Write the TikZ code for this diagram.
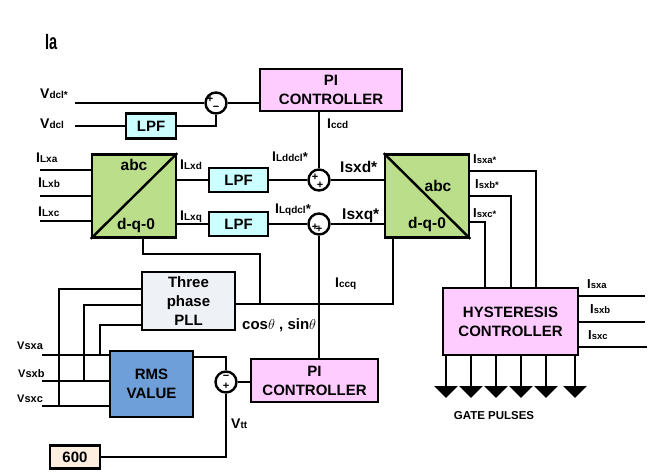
\documentclass[tikz,border=0pt]{standalone}
\usepackage{fontspec}
\usepackage{graphicx}
\setmainfont{Liberation Sans}
\usetikzlibrary{arrows.meta,calc}
\definecolor{pinkf}{HTML}{FFCCFF}
\definecolor{cyanf}{HTML}{CCFFFF}
\definecolor{greenf}{HTML}{BADE8A}
\definecolor{pllf}{HTML}{EEF1F6}
\definecolor{rmsf}{HTML}{6F9FD8}
\definecolor{peachf}{HTML}{FDEEE0}
\newcommand\twolab[4]{{\fontsize{#1}{#1}\selectfont #2}{\fontsize{#3}{#3}\selectfont #4}}
\begin{document}
\begin{tikzpicture}[x=1pt,y=-1pt,
  blk/.style={draw, line width=2.6pt, inner sep=0pt, align=center, font=\fontsize{15}{19}\selectfont\bfseries},
  sumc/.style={draw, circle, line width=2.4pt, minimum size=21pt, inner sep=0pt},
  wire/.style={line width=2.4pt},
  lab/.style={anchor=base west, inner sep=0pt, font=\bfseries},
  sgn/.style={inner sep=0pt, font=\fontsize{11}{11}\selectfont\bfseries},
  boxtxt/.style={inner sep=0pt, font=\fontsize{15.5}{15.5}\selectfont\bfseries},
  gate/.style={line width=2.4pt, -{Triangle[width=23pt,length=12pt]}}]
\useasboundingbox (0,0) rectangle (660,472);

% title
\node[anchor=base west, inner sep=0pt] (title) at (45,49) {\fontsize{22}{22}\selectfont\scalebox{0.66}[1]{\bfseries Ia}};

% blocks
\node[blk, fill=pinkf, minimum width=142pt, minimum height=42pt] (PI1) at (331,90) {PI\\CONTROLLER};
\node[blk, fill=cyanf, minimum width=50pt, minimum height=25pt] (LPF0) at (151,126) {LPF};
\node[sumc] (S1) at (216,103) {};
\node[blk, fill=greenf, minimum width=84pt, minimum height=83pt] (ABC1) at (134,196) {};
\node[blk, fill=cyanf, minimum width=59pt, minimum height=24pt] (LPF1) at (238.5,180) {LPF};
\node[blk, fill=cyanf, minimum width=59pt, minimum height=24pt] (LPF2) at (238.5,224) {LPF};
\node[sumc] (S2) at (319,180) {};
\node[sumc] (S3) at (319,224) {};
\node[blk, fill=greenf, minimum width=84pt, minimum height=83pt] (ABC2) at (427,196) {};
\node[blk, fill=pinkf, minimum width=135pt, minimum height=67pt] (HYS) at (510.5,321.5) {HYSTERESIS\\CONTROLLER};
\node[blk, fill=pllf, minimum width=93pt, minimum height=58pt] (PLL) at (188.5,301) {Three\\phase\\PLL};
\node[blk, fill=rmsf, minimum width=83pt, minimum height=66pt] (RMS) at (151.5,384) {RMS\\VALUE};
\node[sumc] (S4) at (226,382) {};
\node[blk, fill=pinkf, minimum width=127pt, minimum height=43pt] (PI2) at (314.5,380.5) {PI\\CONTROLLER};
\node[blk, fill=peachf, minimum width=50pt, minimum height=23pt] (C600) at (75,457) {600};

% block inner details
\draw[line width=2.4pt] (ABC1.south west) -- (ABC1.north east);
\draw[line width=2.4pt] (ABC2.north west) -- (ABC2.south east);
\node[boxtxt] (abc1t) at (134,165) {abc};
\node[boxtxt] (dq1t) at (136,225) {d-q-0};
\node[boxtxt] (abc2t) at (438,186) {abc};
\node[boxtxt] (dq2t) at (427,224) {d-q-0};

% sum signs
\node[sgn] (s1a) at ($(S1)+(-6,-4)$) {+};
\node[sgn] (s1b) at ($(S1)+(0,5)$) {\textminus};
\node[sgn] (s2a) at ($(S2)+(-4,-3)$) {+};
\node[sgn] (s2b) at ($(S2)+(1,5)$) {+};
\node[sgn] (s3a) at ($(S3)+(-4,3)$) {+};
\node[sgn] (s3b) at ($(S3)+(0,5)$) {+};
\node[sgn] (s4a) at ($(S4)+(0,-5)$) {\textminus};
\node[sgn] (s4b) at ($(S4)+(0,4)$) {+};

% coordinates for free ends
\coordinate (vdr) at (75,103);
\coordinate (vdc) at (75,126);
\coordinate (ila) at (40,170);
\coordinate (ilb) at (40,196);
\coordinate (ilc) at (40,221);
\coordinate (oa) at (536,171);
\coordinate (ob) at (511,196);
\coordinate (oc) at (485,222);
\coordinate (ra) at (645,296);
\coordinate (rb) at (645,322);
\coordinate (rc) at (647,347);
\coordinate (va) at (42,355);
\coordinate (vb) at (42,381);
\coordinate (vc) at (42,406);
\coordinate (ta) at (100,325);
\coordinate (tb) at (84,305);
\coordinate (tc) at (59,289);
\coordinate (ab1) at (143,254);
\coordinate (ab2) at (260,254);
\coordinate (pj) at (260,304);
\coordinate (pr) at (393,304);

% wires
\draw[wire] (vdr) -- (S1.west);
\draw[wire] (vdc) -- (LPF0.west);
\draw[wire] (LPF0.east) -| (S1.south);
\draw[wire] (S1.east) -- (S1.east -| PI1.west);
\draw[wire] (PI1.south -| S2) -- (S2.north);
\foreach \c in {ila,ilb,ilc} {\draw[wire] (\c) -- (\c -| ABC1.west);}
\draw[wire] (ABC1.east |- LPF1) -- (LPF1.west);
\draw[wire] (ABC1.east |- LPF2) -- (LPF2.west);
\draw[wire] (LPF1.east) -- (S2.west);
\draw[wire] (LPF2.east) -- (S3.west);
\draw[wire] (S2.east) -- (S2 -| ABC2.west);
\draw[wire] (S3.east) -- (S3 -| ABC2.west);
\foreach \c in {oa,ob,oc} {\draw[wire] (\c -| ABC2.east) -| (\c |- HYS.north);}
\foreach \c in {ra,rb,rc} {\draw[wire] (\c) -- (\c -| HYS.east);}
\foreach \x [count=\i] in {446,471,496,521,546,575} {
  \coordinate (g\i) at (\x,398);
  \draw[gate] (HYS.south -| g\i) -- (g\i);
}
\draw[wire] (ABC1.south -| ab1) -- (ab1) -- (ab2) -- (pj);
\draw[wire] (PLL.east |- pj) -- (pr) -- (pr |- ABC2.south);
\draw[wire] (S3.south) -- (S3 |- PI2.north);
\foreach \c in {va,vb,vc} {\draw[wire] (\c) -- (\c -| RMS.west);}
\draw[wire] (ta |- va) -- (ta) -- (ta -| PLL.west);
\draw[wire] (tb |- vb) -- (tb) -- (tb -| PLL.west);
\draw[wire] (tc |- vc) -- (tc) -- (tc -| PLL.west);
\draw[wire] ($(RMS.north east)+(0,7)$) -| (S4.north);
\draw[wire] (S4.east) -- (S4.east -| PI2.west);
\draw[wire] (C600.east) -| (S4.south);

% labels
\node[lab] (lvdr) at (40,98) {\twolab{14}{V}{10}{dcl*}};
\node[lab] (lvdc) at (40,128) {\twolab{14}{V}{10}{dcl}};
\node[lab] (liccd) at (327,128) {\twolab{14}{I}{10}{ccd}};
\node[lab] (lild) at (272,161) {\twolab{14}{I}{10}{Lddcl}{\fontsize{13}{13}\selectfont *}};
\node[lab] (lilq) at (275,213) {\twolab{14}{I}{10}{Lqdcl}{\fontsize{13}{13}\selectfont *}};
\node[lab] (lisd) at (340,172) {\fontsize{15.5}{15.5}\selectfont Isxd*};
\node[lab] (lisq) at (342,219) {\fontsize{15.5}{15.5}\selectfont Isxq*};
\node[lab] (lila) at (36,162) {\twolab{14}{I}{10}{Lxa}};
\node[lab] (lilb) at (38,187) {\twolab{14}{I}{10}{Lxb}};
\node[lab] (lilc) at (38,216) {\twolab{14}{I}{10}{Lxc}};
\node[lab] (lilxd) at (180,169) {\twolab{14}{I}{10}{Lxd}};
\node[lab] (lilxq) at (180,220) {\twolab{14}{I}{10}{Lxq}};
\node[lab] (lisa) at (473,163) {\twolab{13}{I}{9.5}{sxa*}};
\node[lab] (lisb) at (475,188) {\twolab{13}{I}{9.5}{sxb*}};
\node[lab] (lisc) at (473,217) {\twolab{13}{I}{9.5}{sxc*}};
\node[lab] (liccq) at (335,287) {\twolab{14}{I}{10}{ccq}};
\node[lab] (lcos) at (242,329) {\fontsize{15}{15}\selectfont cos$\theta$ , sin$\theta$};
\node[lab] (lvsa) at (17,349) {\fontsize{11}{11}\selectfont Vsxa};
\node[lab] (lvsb) at (18,377) {\fontsize{11}{11}\selectfont Vsxb};
\node[lab] (lvsc) at (17,402) {\fontsize{11}{11}\selectfont Vsxc};
\node[lab] (lvtt) at (231,428) {\twolab{14}{V}{10}{tt}};
\node[lab] (lrsa) at (587,288) {\twolab{13}{I}{9.5}{sxa}};
\node[lab] (lrsb) at (590,313) {\twolab{13}{I}{9.5}{sxb}};
\node[lab] (lrsc) at (588,339) {\twolab{13}{I}{9.5}{sxc}};
\node[anchor=base, inner sep=0pt, font=\fontsize{11.5}{11.5}\selectfont\bfseries] (lgate) at (494,419) {GATE PULSES};
\end{tikzpicture}
\end{document}
